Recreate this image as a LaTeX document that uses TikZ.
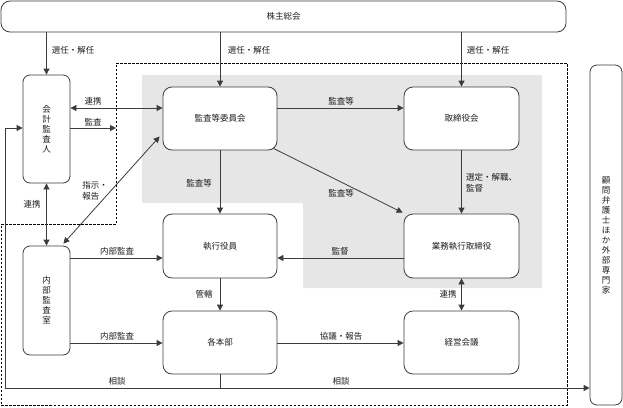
\documentclass[tikz,border=0pt]{standalone}
\usepackage{fontspec}
\setmainfont{Noto Sans CJK JP}
\usepackage{tikz}
\usetikzlibrary{calc,arrows.meta,positioning}
\definecolor{linec}{HTML}{3C3C3C}
\definecolor{txt}{HTML}{1E1E1E}
\definecolor{areabg}{HTML}{E6E6E6}
\tikzset{
  box/.style={draw=linec, line width=0.8pt, rounded corners=9pt, fill=white, text=txt,
    font=\fontsize{8.5}{10}\selectfont, align=center, inner sep=0pt},
  vbox/.style={box, rounded corners=7pt},
  conn/.style={draw=linec, line width=0.8pt},
  arr/.style={conn, -{Triangle[length=6pt,width=6pt]}},
  darr/.style={conn, {Triangle[length=6pt,width=6pt]}-{Triangle[length=6pt,width=6pt]}},
  frame/.style={draw=black, line width=0.9pt, dash pattern=on 2.5pt off 1.5pt},
  lab/.style={text=txt, font=\fontsize{8.5}{11}\selectfont, inner sep=0pt},
}
\begin{document}
\begin{tikzpicture}[x=1pt,y=-1pt]
\useasboundingbox (0,0) rectangle (623,407);

% shaded area and dashed frame
\fill[areabg] (142,75) -- (542,75) -- (542,288) -- (303,288) -- (303,203) -- (142,203) -- cycle;
\draw[frame] (116,63) -- (567,63) -- (567,405) -- (1,405) -- (1,224) -- (116,224) -- cycle;
\coordinate (edge) at (116,128);

% boxes
\node[box, minimum width=565pt, minimum height=31pt] (soukai) at (283.5,16.5) {株主総会};
\node[vbox, minimum width=47pt, minimum height=108pt] (kaikei) at (46.5,129) {会\\計\\監\\査\\人};
\node[vbox, minimum width=47pt, minimum height=109pt] (naibu) at (46.5,300.5) {内\\部\\監\\査\\室};
\node[box, minimum width=114pt, minimum height=63pt] (iinkai) at (220,118.5) {監査等委員会};
\node[box, minimum width=115pt, minimum height=63pt] (torishimari) at (461.5,118.5) {取締役会};
\node[box, minimum width=114pt, minimum height=64pt] (shikkou) at (220,246) {執行役員};
\node[box, minimum width=115pt, minimum height=64pt] (gyoumu) at (461.5,246) {業務執行取締役};
\node[box, minimum width=114pt, minimum height=63pt] (honbu) at (220,342.5) {各本部};
\node[box, minimum width=115pt, minimum height=63pt] (keiei) at (461.5,342.5) {経営会議};
\node[vbox, minimum width=32pt, minimum height=340pt] (komon) at (606,235) {顧\\問\\弁\\護\\士\\ほ\\か\\外\\部\\専\\門\\家};

% connectors
\draw[arr] (soukai.south -| kaikei) -- (kaikei.north);
\draw[arr] (soukai.south -| iinkai) -- (iinkai.north);
\draw[arr] (soukai.south -| torishimari) -- (torishimari.north);
\draw[darr] (kaikei.east |- 0,108) -- (iinkai.west |- 0,108);
\draw[arr] (kaikei.east |- edge) -- (edge);
\draw[darr] (kaikei.south) -- (naibu.north);
\draw[darr] ($(naibu.north east)+(-7,-2)$) -- ($(iinkai.west)+(-3,18)$);
\draw[arr] (iinkai.east |- 0,108) -- (torishimari.west |- 0,108);
\draw[arr] (iinkai.south) -- (shikkou.north);
\draw[arr] ($(iinkai.south east)+(-4,-2)$) -- ($(gyoumu.north west)+(-1,-1)$);
\draw[arr] (torishimari.south) -- (gyoumu.north);
\draw[arr] (gyoumu.west |- 0,258) -- (shikkou.east |- 0,258);
\draw[arr] (shikkou.south) -- (honbu.north);
\draw[darr] (gyoumu.south) -- (keiei.north);
\draw[arr] (naibu.east |- 0,258) -- (shikkou.west |- 0,258);
\draw[arr] (naibu.east |- 0,343) -- (honbu.west |- 0,343);
\draw[arr] (honbu.east |- 0,343) -- (keiei.west |- 0,343);
\draw[conn] (honbu.south) -- (honbu.south |- 0,388) coordinate (sodan);
\draw[arr] (sodan) -| (5,128) -- (kaikei.west |- 0,128);
\draw[arr] (sodan) -- (komon.west |- sodan);

% labels
\node[lab] at (73,50) {選任・解任};
\node[lab] at (249,50) {選任・解任};
\node[lab] at (488,50) {選任・解任};
\node[lab] at (93,101) {連携};
\node[lab] at (93,122) {監査};
\node[lab, align=left] at (95,191) {指示・\\報告};
\node[lab] at (32,204) {連携};
\node[lab] at (341,101) {監査等};
\node[lab] at (199,183) {監査等};
\node[lab] at (341,193) {監査等};
\node[lab, align=left, anchor=west] at (466,183) {選定・解職、\\監督};
\node[lab] at (340,251) {監督};
\node[lab] at (204,294) {管轄};
\node[lab] at (448,294) {連携};
\node[lab] at (117,251) {内部監査};
\node[lab] at (117,336) {内部監査};
\node[lab] at (341,336) {協議・報告};
\node[lab] at (117,381) {相談};
\node[lab] at (341,381) {相談};
\end{tikzpicture}
\end{document}
